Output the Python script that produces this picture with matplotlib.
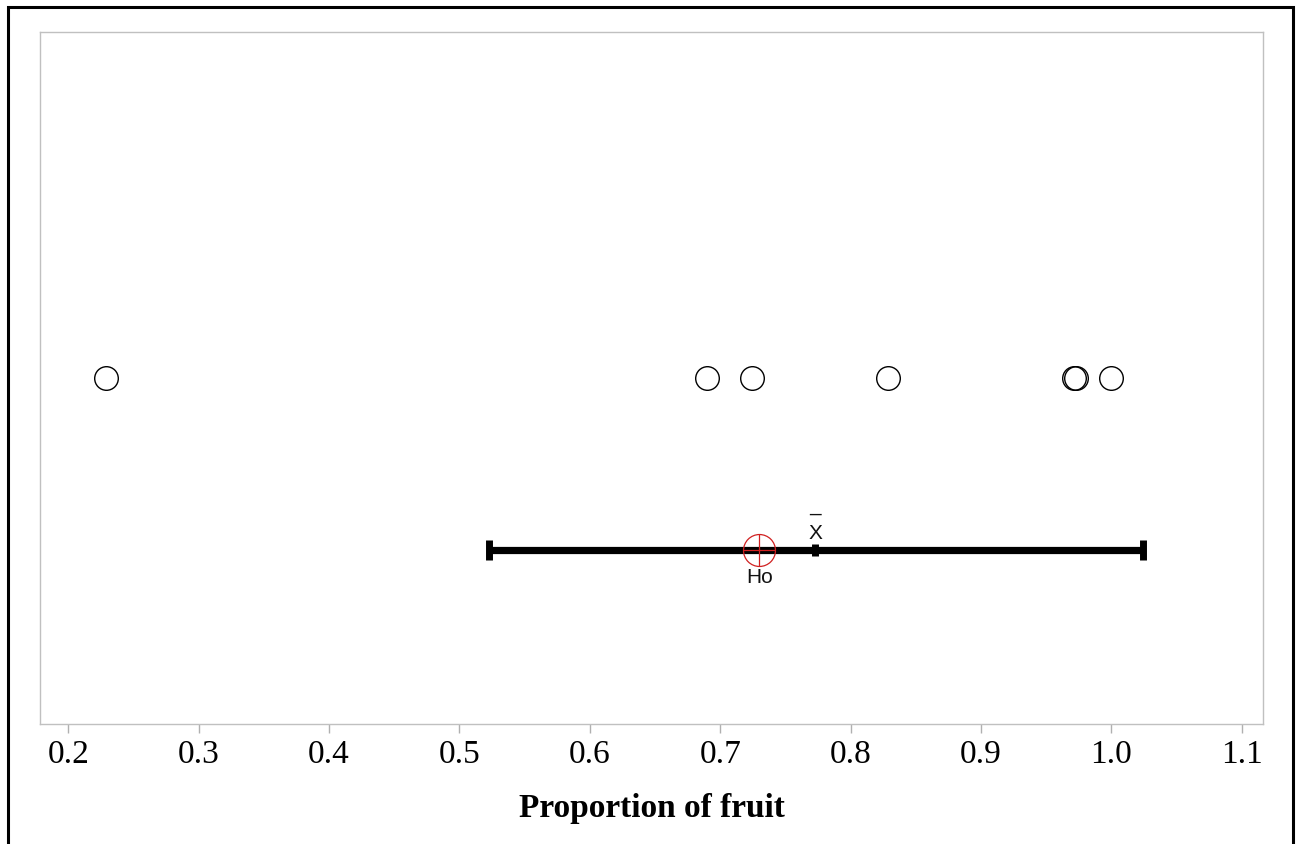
import matplotlib
matplotlib.use("Agg")
import matplotlib.pyplot as plt
from matplotlib.patches import Rectangle

# Data
values = [0.229, 0.690, 0.724, 0.829, 0.971, 0.973, 1.000]
ci_low = 0.523
ci_high = 1.024
mean_value = 0.773
h0_value = 0.730
tick_values = [0.2, 0.3, 0.4, 0.5, 0.6, 0.7, 0.8, 0.9, 1.0, 1.1]
tick_labels = ["0.2", "0.3", "0.4", "0.5", "0.6", "0.7", "0.8", "0.9", "1.0", "1.1"]
xlabel = "Proportion of fruit"

W, H = 1301, 844
fig = plt.figure(figsize=(W / 100, H / 100), dpi=100)

# outer border
fig.patches.append(Rectangle((8 / W, -0.01), (1293 - 8) / W, 1.01 - 7 / H,
                             transform=fig.transFigure, fill=False,
                             edgecolor='black', linewidth=2.2))

ax = fig.add_axes([40 / W, (H - 724) / H, (1263 - 40) / W, (724 - 32) / H])
ax.set_xlim(0.1783, 1.1163)
ax.set_ylim(0, 1)

y_pts = 0.5
y_ci = 0.2514

ax.plot(values, [y_pts] * len(values), linestyle='none', marker='o',
        markersize=17, markerfacecolor='none', markeredgecolor='black',
        markeredgewidth=1.0)

# CI line
ax.plot([ci_low, ci_high], [y_ci, y_ci], color='black', linewidth=5.2,
        solid_capstyle='butt', zorder=3)
ax.plot([ci_low, ci_high], [y_ci, y_ci], linestyle='none', marker='|',
        markersize=15, markeredgewidth=5, color='black', zorder=3)
ax.plot([mean_value], [y_ci], linestyle='none', marker='|',
        markersize=8.5, markeredgewidth=5, color='black', zorder=4)

# H0 marker
ax.plot([h0_value], [y_ci], linestyle='none', marker='o', markersize=23,
        markerfacecolor='none', markeredgecolor='#d02020',
        markeredgewidth=0.9, zorder=5)
ax.plot([h0_value], [y_ci], linestyle='none', marker='+', markersize=23,
        markeredgecolor='#d02020', markeredgewidth=0.9, zorder=5)

ax.annotate("Ho", (h0_value, y_ci), xytext=(0, -19.5), textcoords='offset points',
            ha='center', va='center', fontsize=15, family='Liberation Sans',
            color='#111111')
ax.annotate("\u00af\nX", (mean_value, y_ci), xytext=(0, 7.6),
            textcoords='offset points', ha='center', va='baseline',
            multialignment='center', linespacing=0.35, fontsize=15,
            family='Liberation Sans', color='#111111')

ax.set_yticks([])
ax.set_xticks(tick_values)
ax.set_xticklabels(tick_labels, family='Liberation Serif', fontsize=24)
ax.tick_params(axis='x', direction='out', length=6.5, width=1, color='#b0b0b0',
               pad=5)
for s in ax.spines.values():
    s.set_color('#c0c0c0')
    s.set_linewidth(1.0)

ax.set_xlabel(xlabel, family='Liberation Serif', fontsize=24,
              fontweight='bold', labelpad=16)

fig.savefig("out.png", dpi=100)
